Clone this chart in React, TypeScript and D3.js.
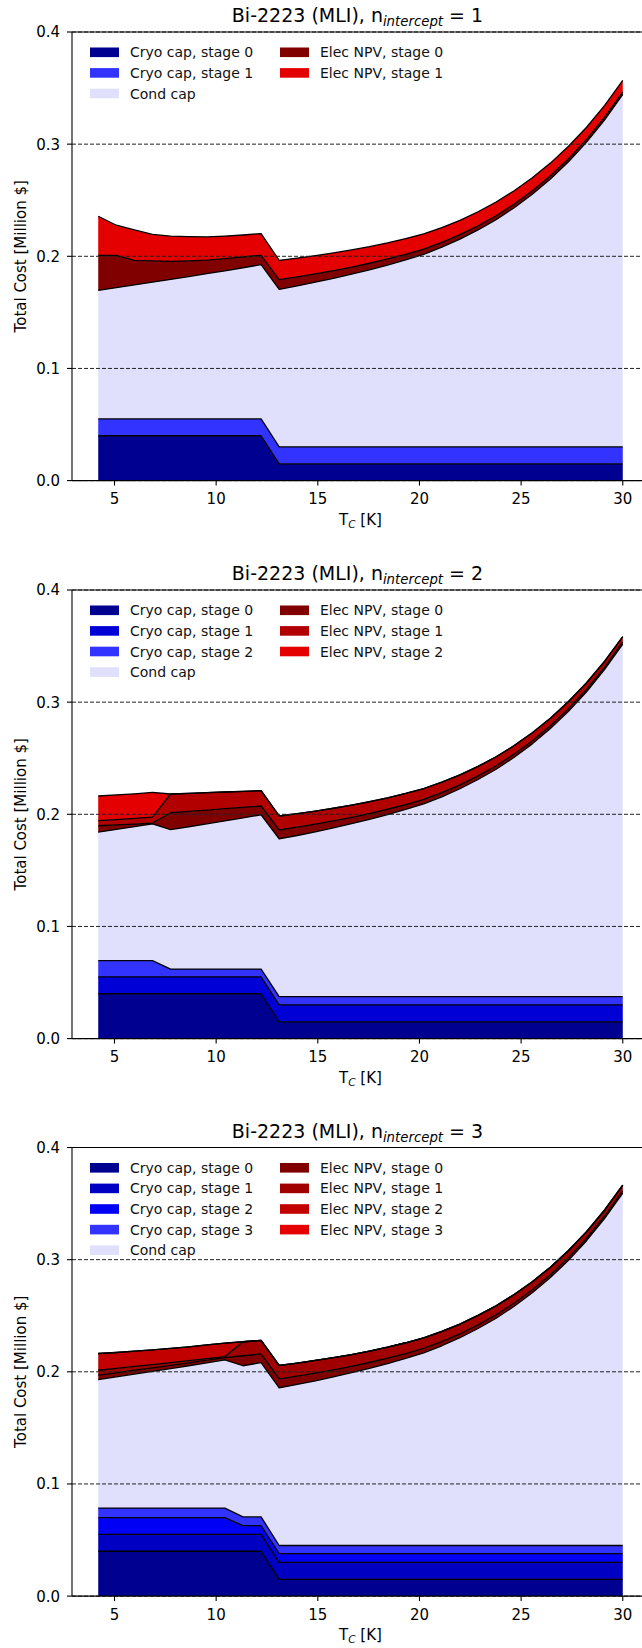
import React from 'react';
import * as d3 from 'd3';

// temperature grid [K]
const temps = [4.2, 5.09, 5.98, 6.87, 7.76, 8.65, 9.54, 10.43, 11.32, 12.21, 13.1, 13.99, 14.88, 15.77, 16.66,
  17.54, 18.43, 19.32, 20.21, 21.1, 21.99, 22.88, 23.77, 24.66, 25.55, 26.44, 27.33, 28.22, 29.11, 30.0];

const xTicks = [5, 10, 15, 20, 25, 30];
const yTicks = [0.0, 0.1, 0.2, 0.3, 0.4];

// conductor capital (same in every panel)
const condCap = [0.1146, 0.1170, 0.1195, 0.1219, 0.1244, 0.1269, 0.1295, 0.1321, 0.1348, 0.1376, 0.1405, 0.1436,
  0.1469, 0.1504, 0.1541, 0.1580, 0.1622, 0.1668, 0.1718, 0.1781, 0.1853, 0.1935, 0.2027, 0.2133, 0.2253, 0.2389,
  0.2543, 0.2718, 0.2917, 0.3143];

// n_intercept = 1
const p1Cryo0 = [0.04, 0.04, 0.04, 0.04, 0.04, 0.04, 0.04, 0.04, 0.04, 0.04, 0.015, 0.015, 0.015, 0.015, 0.015,
  0.015, 0.015, 0.015, 0.015, 0.015, 0.015, 0.015, 0.015, 0.015, 0.015, 0.015, 0.015, 0.015, 0.015, 0.015];
const p1Cryo1 = [0.015, 0.015, 0.015, 0.015, 0.015, 0.015, 0.015, 0.015, 0.015, 0.015, 0.015, 0.015, 0.015, 0.015,
  0.015, 0.015, 0.015, 0.015, 0.015, 0.015, 0.015, 0.015, 0.015, 0.015, 0.015, 0.015, 0.015, 0.015, 0.015, 0.015];
const p1Elec0 = [0.0313, 0.0289, 0.0219, 0.0191, 0.0161, 0.0141, 0.0121, 0.0109, 0.0097, 0.0083, 0.0087, 0.0080,
  0.0074, 0.0068, 0.0063, 0.0058, 0.0054, 0.0050, 0.0046, 0.0043, 0.0040, 0.0037, 0.0035, 0.0033, 0.0031, 0.0029,
  0.0027, 0.0025, 0.0023, 0.0022];
const p1Elec1 = [0.0348, 0.0268, 0.0271, 0.0235, 0.0224, 0.0215, 0.0207, 0.0200, 0.0195, 0.0194, 0.0172, 0.0168,
  0.0163, 0.0158, 0.0153, 0.0148, 0.0144, 0.0140, 0.0136, 0.0132, 0.0128, 0.0125, 0.0122, 0.0119, 0.0116, 0.0113,
  0.0111, 0.0108, 0.0106, 0.0104];

// n_intercept = 2
const p2Cryo0 = p1Cryo0;
const p2Cryo1 = p1Cryo1;
const p2Cryo2 = [0.0145, 0.0145, 0.0145, 0.0145, 0.007, 0.007, 0.007, 0.007, 0.007, 0.007, 0.0075, 0.0075, 0.0075,
  0.0075, 0.0075, 0.0075, 0.0075, 0.0075, 0.0075, 0.0075, 0.0075, 0.0075, 0.0075, 0.0075, 0.0075, 0.0075, 0.0075,
  0.0075, 0.0075, 0.0075];
const p2Elec0 = [0.0057, 0.0040, 0.0023, 0.0008, 0.0150, 0.0137, 0.0123, 0.0109, 0.0094, 0.0078, 0.0080, 0.0074,
  0.0068, 0.0062, 0.0057, 0.0052, 0.0048, 0.0044, 0.0041, 0.0038, 0.0035, 0.0033, 0.0031, 0.0029, 0.0027, 0.0025,
  0.0024, 0.0022, 0.0021, 0.0020];
const p2Elec1 = [0.0045, 0.0048, 0.0050, 0.0053, 0.0167, 0.0161, 0.0155, 0.0149, 0.0143, 0.0137, 0.0125, 0.0121,
  0.0117, 0.0113, 0.0109, 0.0105, 0.0102, 0.0099, 0.0096, 0.0092, 0.0088, 0.0084, 0.0080, 0.0076, 0.0072, 0.0068,
  0.0064, 0.0058, 0.0052, 0.0046];
const p2Elec2 = [0.022, 0.022, 0.022, 0.022, 0, 0, 0, 0, 0, 0, 0, 0, 0, 0, 0, 0, 0, 0, 0, 0, 0, 0, 0, 0, 0, 0, 0, 0, 0, 0];

// n_intercept = 3
const p3Cryo0 = p1Cryo0;
const p3Cryo1 = p1Cryo1;
const p3Cryo2 = [0.015, 0.015, 0.015, 0.015, 0.015, 0.015, 0.015, 0.015, 0.0078, 0.0078, 0.0078, 0.0078, 0.0078,
  0.0078, 0.0078, 0.0078, 0.0078, 0.0078, 0.0078, 0.0078, 0.0078, 0.0078, 0.0078, 0.0078, 0.0078, 0.0078, 0.0078,
  0.0078, 0.0078, 0.0078];
const p3Cryo3 = [0.0085, 0.0085, 0.0085, 0.0085, 0.0085, 0.0085, 0.0085, 0.0085, 0.0078, 0.0078, 0.0073, 0.0073,
  0.0073, 0.0073, 0.0073, 0.0073, 0.0073, 0.0073, 0.0073, 0.0073, 0.0073, 0.0073, 0.0073, 0.0073, 0.0073, 0.0073,
  0.0073, 0.0073, 0.0073, 0.0073];
const p3Elec0 = [0.0039, 0.0036, 0.0034, 0.0031, 0.0029, 0.0026, 0.0024, 0.0021, 0.0089, 0.0077, 0.0080, 0.0074,
  0.0068, 0.0062, 0.0057, 0.0052, 0.0048, 0.0044, 0.0041, 0.0038, 0.0035, 0.0033, 0.0031, 0.0029, 0.0027, 0.0025,
  0.0024, 0.0022, 0.0021, 0.0020];
const p3Elec1 = [0.0044, 0.0039, 0.0034, 0.0029, 0.0024, 0.0019, 0.0014, 0.0009, 0.0125, 0.0121, 0.0121, 0.0117,
  0.0113, 0.0109, 0.0105, 0.0102, 0.0099, 0.0096, 0.0093, 0.0090, 0.0087, 0.0084, 0.0080, 0.0076, 0.0072, 0.0068,
  0.0064, 0.0059, 0.0054, 0.0050];
const p3Elec2 = [0.0149, 0.0142, 0.0136, 0.0131, 0.0127, 0.0124, 0.0122, 0.0120, 0, 0, 0, 0, 0, 0, 0, 0, 0, 0, 0, 0,
  0, 0, 0, 0, 0, 0, 0, 0, 0, 0];
const p3Elec3 = [0, 0, 0, 0, 0, 0, 0, 0, 0, 0, 0, 0, 0, 0, 0, 0, 0, 0, 0, 0, 0, 0, 0, 0, 0, 0, 0, 0, 0, 0];

const condColor = '#e0e0fd';

type Layer = { name: string; values: number[]; color: string };

const panels: { n: number; top: number; layers: Layer[] }[] = [
  {
    n: 1, top: 32, layers: [
      { name: 'Cryo cap, stage 0', values: p1Cryo0, color: '#000090' },
      { name: 'Cryo cap, stage 1', values: p1Cryo1, color: '#3333ff' },
      { name: 'Cond cap', values: condCap, color: condColor },
      { name: 'Elec NPV, stage 0', values: p1Elec0, color: '#800000' },
      { name: 'Elec NPV, stage 1', values: p1Elec1, color: '#e40000' },
    ],
  },
  {
    n: 2, top: 590, layers: [
      { name: 'Cryo cap, stage 0', values: p2Cryo0, color: '#000090' },
      { name: 'Cryo cap, stage 1', values: p2Cryo1, color: '#0000d6' },
      { name: 'Cryo cap, stage 2', values: p2Cryo2, color: '#3333ff' },
      { name: 'Cond cap', values: condCap, color: condColor },
      { name: 'Elec NPV, stage 0', values: p2Elec0, color: '#800000' },
      { name: 'Elec NPV, stage 1', values: p2Elec1, color: '#b20000' },
      { name: 'Elec NPV, stage 2', values: p2Elec2, color: '#e40000' },
    ],
  },
  {
    n: 3, top: 1147.5, layers: [
      { name: 'Cryo cap, stage 0', values: p3Cryo0, color: '#000090' },
      { name: 'Cryo cap, stage 1', values: p3Cryo1, color: '#0000c2' },
      { name: 'Cryo cap, stage 2', values: p3Cryo2, color: '#0000f4' },
      { name: 'Cryo cap, stage 3', values: p3Cryo3, color: '#3333ff' },
      { name: 'Cond cap', values: condCap, color: condColor },
      { name: 'Elec NPV, stage 0', values: p3Elec0, color: '#800000' },
      { name: 'Elec NPV, stage 1', values: p3Elec1, color: '#a00000' },
      { name: 'Elec NPV, stage 2', values: p3Elec2, color: '#c20000' },
      { name: 'Elec NPV, stage 3', values: p3Elec3, color: '#e40000' },
    ],
  },
];

const FONT = '"DejaVu Sans", sans-serif';
const AX_LEFT = 72;
const AX_RIGHT = 649;
const AX_H = 448.6;

function Panel({ n, top, layers }: { n: number; top: number; layers: Layer[] }) {
  const bottom = top + AX_H;
  const x = d3.scaleLinear().domain([2.91, 31.29]).range([AX_LEFT, AX_RIGHT]);
  const y = d3.scaleLinear().domain([0, 0.4]).range([bottom, top]);

  const keys = layers.map((_, j) => 'k' + j);
  const rows = temps.map((t, i) => {
    const r: any = { t };
    layers.forEach((l, j) => { r['k' + j] = l.values[i]; });
    return r;
  });
  const series = d3.stack<any>().keys(keys)(rows);
  const area = d3.area<any>().x(d => x(d.data.t)).y0(d => y(d[0])).y1(d => y(d[1]));
  const line = d3.line<any>().x(d => x(d.data.t)).y(d => y(d[1]));

  const nCol1 = Math.ceil(layers.length / 2);
  const cx = (AX_LEFT + AX_RIGHT) / 2;

  return (
    <g>
      {series.map((s, j) => (
        <path key={'a' + j} d={area(s) || ''} fill={layers[j].color} stroke="none" />
      ))}
      {series.map((s, j) => (
        <path key={'l' + j} d={line(s) || ''} fill="none" stroke="#000" strokeWidth={1.3} strokeLinejoin="round" />
      ))}
      {yTicks.map(v => (
        <line key={'g' + v} x1={AX_LEFT} x2={AX_RIGHT} y1={y(v)} y2={y(v)} stroke="#222" strokeWidth={1}
          strokeDasharray="4,2" />
      ))}
      <line x1={AX_LEFT} x2={AX_LEFT} y1={top} y2={bottom} stroke="#000" strokeWidth={1.1} />
      <line x1={AX_LEFT} x2={AX_RIGHT} y1={top} y2={top} stroke="#000" strokeWidth={1.1} />
      <line x1={AX_LEFT} x2={AX_RIGHT} y1={bottom} y2={bottom} stroke="#000" strokeWidth={1.1} />
      <line x1={AX_RIGHT} x2={AX_RIGHT} y1={top} y2={bottom} stroke="#000" strokeWidth={1.1} />
      {yTicks.map(v => (
        <g key={'yt' + v}>
          <line x1={AX_LEFT - 5} x2={AX_LEFT} y1={y(v)} y2={y(v)} stroke="#000" strokeWidth={1.1} />
          <text x={AX_LEFT - 12} y={y(v) + 5.4} textAnchor="end" fontSize={15} fontFamily={FONT}>{v.toFixed(1)}</text>
        </g>
      ))}
      {xTicks.map(v => (
        <g key={'xt' + v}>
          <line x1={x(v)} x2={x(v)} y1={bottom} y2={bottom + 5} stroke="#000" strokeWidth={1.1} />
          <text x={x(v)} y={bottom + 23.5} textAnchor="middle" fontSize={15} fontFamily={FONT}>{v}</text>
        </g>
      ))}
      <text x={cx} y={bottom + 44} textAnchor="middle" fontSize={15} fontFamily={FONT}>
        T<tspan fontSize={10.5} fontStyle="italic" dy={3}>C</tspan><tspan dy={-3}> [K]</tspan>
      </text>
      <text transform={`translate(26,${(top + bottom) / 2}) rotate(-90)`} textAnchor="middle" fontSize={15}
        fontFamily={FONT}>Total Cost [Million $]</text>
      <text x={cx - 3} y={top - 10} textAnchor="middle" fontSize={19} fontFamily={FONT}>
        Bi-2223 (MLI), n<tspan fontSize={13.3} fontStyle="italic" dy={4}>intercept</tspan>
        <tspan dy={-4}> = {n}</tspan>
      </text>
      {layers.map((l, i) => {
        const col = i < nCol1 ? 0 : 1;
        const row = col === 0 ? i : i - nCol1;
        const ry = top + 20.3 + row * 20.6;
        const hx = col === 0 ? 90 : 280;
        return (
          <g key={'lg' + i}>
            <rect x={hx} y={ry - 4.8} width={29} height={9.6} fill={l.color} />
            <text x={hx + 40} y={ry + 5} fontSize={14} fontFamily={FONT} fill="#111">{l.name}</text>
          </g>
        );
      })}
    </g>
  );
}

export default function App() {
  return (
    <svg width={642} height={1648} style={{ position: 'absolute', left: 0, top: 0, background: '#fff' }}>
      {panels.map(p => <Panel key={p.n} n={p.n} top={p.top} layers={p.layers} />)}
    </svg>
  );
}
